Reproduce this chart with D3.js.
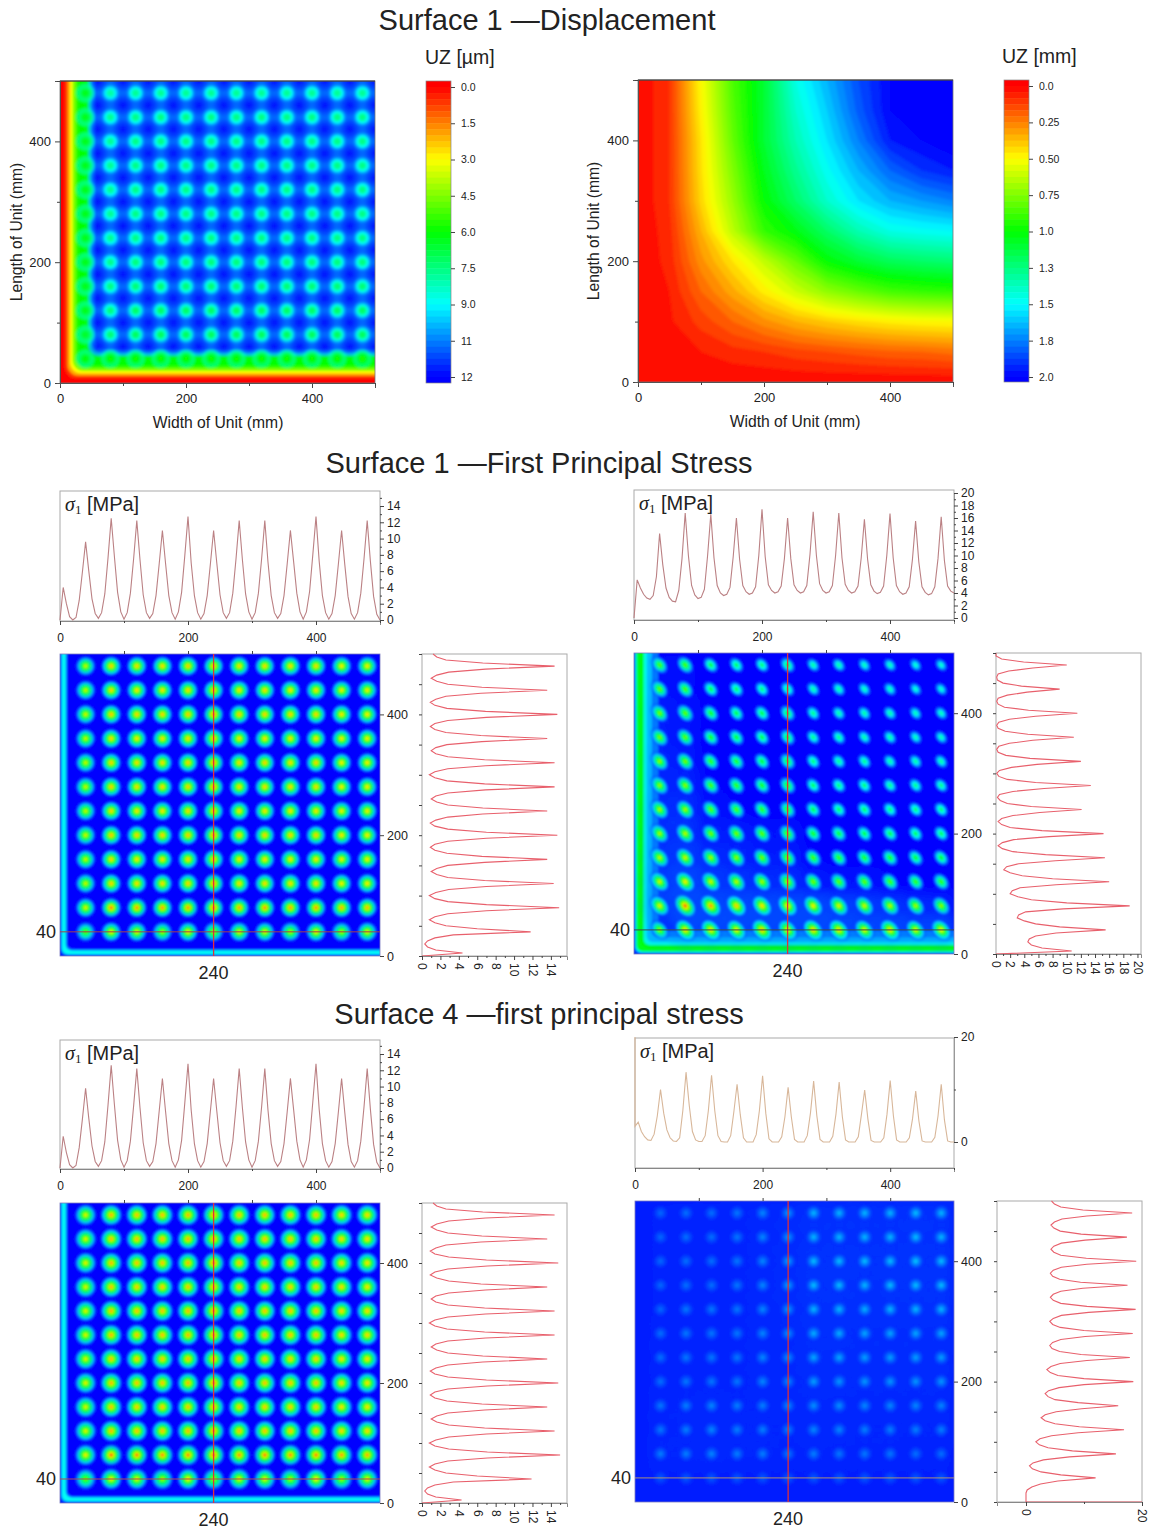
<!DOCTYPE html>
<html>
<head>
<meta charset="utf-8">
<style>
  html, body { margin: 0; background: #fff; }
  text { font-family: "Liberation Sans", Arial, sans-serif; fill: #222; }
</style>
<script src="https://cdn.jsdelivr.net/npm/d3@7"></script>
</head>
<body>
<div id="chart"></div>
<script>
// stations along the section lines, mm
const stations = d3.range(0, 501, 5);
const spotX = [40, 80, 120, 160, 200, 240, 280, 320, 360, 400, 440, 480];
const spotY = [480, 440, 400, 360, 320, 280, 240, 200, 160, 120, 80, 40];
const holeX = [60, 100, 140, 180, 220, 260, 300, 340, 380, 420, 460, 500];
const holeY = [500, 460, 420, 380, 340, 300, 260, 220, 180, 140, 100, 60];
const gridX = [0, 50, 100, 150, 200, 250, 300, 350, 400, 450, 500];

const umBarLabels = ["0.0", "1.5", "3.0", "4.5", "6.0", "7.5", "9.0", "11", "12"];
const mmBarLabels = ["0.0", "0.25", "0.50", "0.75", "1.0", "1.3", "1.5", "1.8", "2.0"];

// UZ [mm] read at gridX, rows from y=500 down to y=0
const uzMm = [
  [0, .10, .50, .85, 1.10, 1.45, 1.65, 1.85, 2.00, 2.05, 2.10],
  [0, .10, .48, .83, 1.10, 1.40, 1.60, 1.82, 2.00, 2.05, 2.10],
  [0, .10, .45, .80, 1.10, 1.35, 1.55, 1.75, 1.95, 2.00, 2.05],
  [0, .10, .44, .75, 1.05, 1.28, 1.48, 1.65, 1.80, 1.90, 1.95],
  [0, .10, .42, .70, 1.00, 1.20, 1.40, 1.55, 1.65, 1.70, 1.75],
  [0, .08, .35, .63, .90, 1.03, 1.20, 1.35, 1.45, 1.48, 1.50],
  [0, .07, .28, .45, .62, .80, 1.00, 1.10, 1.17, 1.20, 1.22],
  [0, .05, .20, .33, .47, .60, .72, .80, .87, .90, .92],
  [0, .04, .12, .20, .28, .35, .40, .44, .47, .49, .50],
  [0, .02, .05, .08, .10, .13, .15, .17, .19, .20, .22],
  [0, 0, 0, 0, 0, 0, 0, 0, 0, 0, 0]
];

// UZ [um] edge bands and pad spots
const uzUmBandDist = [0, 8, 12, 16, 20, 25, 30, 40, 45, 50, 55];
const uzUmBandVal = [0, 0.6, 2, 3, 4.5, 5.6, 6, 6.3, 8.5, 10, 10.8];
const uzUmPeaks = [
  [6.2, 7.8, 7.6, 7.6, 7.6, 7.6, 7.6, 7.6, 7.6, 7.6, 7.6, 7.6],
  [6.2, 7.6, 7.4, 7.4, 7.4, 7.4, 7.4, 7.4, 7.4, 7.4, 7.4, 7.4],
  [6.2, 7.6, 7.4, 7.4, 7.4, 7.4, 7.4, 7.4, 7.4, 7.4, 7.4, 7.4],
  [6.2, 7.6, 7.4, 7.4, 7.4, 7.4, 7.4, 7.4, 7.4, 7.4, 7.4, 7.4],
  [6.2, 7.6, 7.4, 7.4, 7.4, 7.4, 7.4, 7.4, 7.4, 7.4, 7.4, 7.4],
  [6.2, 7.6, 7.4, 7.4, 7.4, 7.4, 7.4, 7.4, 7.4, 7.4, 7.4, 7.4],
  [6.2, 7.6, 7.4, 7.4, 7.4, 7.4, 7.4, 7.4, 7.4, 7.4, 7.4, 7.4],
  [6.2, 7.5, 7.3, 7.3, 7.3, 7.3, 7.3, 7.3, 7.3, 7.3, 7.3, 7.3],
  [6.2, 7.4, 7.2, 7.2, 7.2, 7.2, 7.2, 7.2, 7.2, 7.2, 7.2, 7.2],
  [6.2, 7.3, 7.0, 7.0, 7.0, 7.0, 7.0, 7.0, 7.0, 7.0, 7.0, 7.0],
  [6.4, 7.2, 6.9, 6.9, 6.9, 6.9, 6.9, 6.9, 6.9, 6.9, 6.9, 6.9],
  [6.0, 5.8, 5.8, 5.8, 5.8, 5.8, 5.8, 5.8, 5.8, 5.8, 5.8, 5.6]
];

// Surface 1, thin plate: section at y=40 and x=240, MPa
const s1LeftLine = [
  0, 4.0, 2.0, 0.4, 0.0, 0.3, 2.4, 5.9,
  9.6, 6.0, 2.6, 0.8, 0.2, 0.9, 3.2, 7.6,
  12.5, 7.8, 3.4, 1.0, 0.1, 0.9, 3.3, 7.5,
  12.2, 7.4, 3.1, 0.9, 0.2, 0.8, 3.0, 6.9,
  11.0, 6.9, 3.0, 0.9, 0.1, 1.0, 3.4, 7.9,
  12.7, 7.0, 3.0, 0.9, 0.1, 0.8, 3.0, 6.9,
  11.0, 7.0, 3.1, 0.9, 0.2, 0.9, 3.3, 7.5,
  12.2, 7.4, 3.2, 1.0, 0.1, 0.9, 3.3, 7.5,
  12.2, 7.1, 3.0, 0.9, 0.2, 0.8, 3.0, 6.9,
  11.0, 7.2, 3.3, 1.0, 0.1, 1.0, 3.5, 8.0,
  12.7, 7.2, 3.0, 0.9, 0.1, 0.8, 3.0, 6.9,
  11.0, 6.8, 2.9, 0.8, 0.1, 0.9, 3.3, 7.5,
  12.2, 7.2, 2.9, 0.7, 0.0
];
const s1LeftCol = [
  0, 4.4, 1.5, 0.6, 0.3, 0.6, 1.4, 3.4,
  11.8, 6.0, 2.6, 1.4, 0.8, 1.4, 2.8, 7.0,
  14.9, 7.0, 2.8, 1.4, 0.8, 1.5, 2.9, 7.0,
  14.3, 6.8, 2.8, 1.6, 1.0, 1.6, 2.8, 6.8,
  13.6, 6.5, 2.7, 1.4, 0.9, 1.4, 2.8, 7.0,
  14.7, 7.0, 2.8, 1.4, 0.9, 1.5, 2.8, 6.6,
  13.6, 6.6, 2.8, 1.6, 1.0, 1.5, 2.8, 6.9,
  14.4, 6.8, 2.7, 1.4, 0.8, 1.4, 2.8, 6.9,
  14.4, 6.8, 2.8, 1.5, 1.0, 1.5, 2.7, 6.5,
  13.6, 6.4, 2.6, 1.4, 0.9, 1.4, 2.8, 7.0,
  14.7, 6.9, 2.7, 1.4, 0.9, 1.5, 2.6, 6.4,
  13.6, 6.5, 2.8, 1.6, 1.0, 1.6, 2.9, 6.9,
  14.4, 6.6, 2.6, 1.6, 1.2
];
const s1LeftPeaks = [
  [11.5, 13.4, 13.2, 13.2, 13.5, 13.6, 13.2, 13.2, 13.2, 13.2, 12.8, 12.8],
  [11.5, 13.2, 13.0, 13.0, 13.2, 13.6, 13.0, 13.2, 13.0, 13.0, 12.6, 12.6],
  [11.8, 13.6, 13.4, 13.4, 13.6, 14.7, 13.6, 13.4, 13.4, 13.4, 13.0, 12.8],
  [11.5, 13.2, 13.0, 13.0, 13.2, 13.6, 13.0, 13.0, 13.0, 13.0, 12.8, 12.6],
  [11.6, 13.4, 13.2, 13.2, 13.4, 14.4, 13.2, 13.4, 13.2, 13.4, 12.8, 12.8],
  [11.6, 13.4, 13.2, 13.2, 13.4, 14.4, 13.2, 13.2, 13.2, 13.2, 12.8, 12.8],
  [11.5, 13.2, 13.0, 13.0, 13.2, 13.6, 13.0, 13.0, 13.0, 13.0, 12.6, 12.6],
  [11.8, 13.6, 13.4, 13.4, 13.6, 14.7, 13.4, 13.4, 13.4, 13.4, 13.0, 12.8],
  [11.5, 13.2, 13.0, 13.0, 13.2, 13.6, 13.0, 13.0, 13.0, 13.0, 12.6, 12.6],
  [11.6, 13.4, 13.2, 13.2, 13.4, 14.3, 13.2, 13.2, 13.2, 13.2, 12.8, 12.8],
  [12.0, 14.9, 14.4, 14.2, 14.4, 14.9, 14.2, 14.4, 14.2, 14.4, 14.0, 13.8],
  [9.6, 12.5, 12.2, 11.0, 12.7, 11.0, 12.2, 12.2, 11.0, 12.7, 11.0, 12.2]
];
const s1LeftBandDist = [0, 2, 3.5, 6.5, 9, 11];
const s1LeftBandVal = [0.5, 3.0, 3.9, 3.9, 1.5, 0];

// Surface 1, thick plate
const s1RightLine = [
  0, 6.1, 4.8, 3.8, 3.2, 3.0, 3.6, 6.6,
  13.5, 8.5, 4.8, 3.3, 2.7, 2.6, 4.4, 9.5,
  16.8, 10.0, 5.2, 3.7, 3.1, 3.3, 4.6, 10.0,
  16.6, 9.6, 5.2, 4.0, 3.6, 3.8, 4.9, 9.8,
  16.0, 9.4, 5.2, 4.2, 3.8, 4.0, 5.0, 10.0,
  17.4, 9.8, 5.3, 4.4, 4.0, 4.2, 5.1, 9.5,
  16.0, 9.5, 5.3, 4.4, 4.0, 4.2, 5.2, 10.2,
  17.0, 10.0, 5.5, 4.4, 4.0, 4.2, 5.2, 10.0,
  16.8, 9.6, 5.4, 4.4, 4.0, 4.2, 5.1, 9.6,
  15.8, 9.4, 5.3, 4.3, 3.9, 4.1, 5.1, 10.0,
  16.7, 9.6, 5.2, 4.2, 3.8, 4.0, 5.0, 9.3,
  15.5, 9.0, 5.0, 4.1, 3.7, 3.9, 5.0, 9.5,
  16.2, 9.2, 5.1, 4.3, 4.0
];
const s1RightCol = [
  0, 10.7, 6.5, 5.0, 4.5, 4.7, 5.6, 8.5,
  15.5, 9.0, 5.6, 4.0, 3.0, 3.2, 4.2, 9.5,
  18.9, 10.0, 5.0, 3.1, 2.0, 2.3, 3.4, 8.5,
  16.0, 8.0, 3.7, 2.0, 1.1, 1.5, 3.2, 8.4,
  15.4, 7.0, 2.4, 0.9, 0.3, 0.9, 2.5, 7.5,
  15.2, 6.5, 2.0, 0.8, 0.3, 0.8, 2.4, 6.2,
  12.1, 5.0, 1.6, 0.6, 0.2, 0.5, 2.4, 6.8,
  13.4, 5.6, 1.6, 0.4, 0.1, 0.5, 2.2, 5.8,
  12.0, 4.8, 1.4, 0.3, 0.1, 0.4, 1.9, 5.2,
  11.0, 4.5, 1.3, 0.3, 0.1, 0.4, 1.9, 5.6,
  11.5, 4.6, 1.2, 0.3, 0.1, 0.3, 1.6, 4.4,
  9.0, 3.6, 1.0, 0.2, 0.1, 0.3, 1.8, 5.2,
  10.0, 3.9, 0.8, 0.0, 0.0
];
const s1RightPeaks = [
  [12.0, 12.0, 10.0, 9.5, 9.0, 10.0, 8.0, 8.0, 7.5, 7.5, 7.0, 7.0],
  [12.5, 12.0, 10.0, 9.5, 9.0, 9.0, 8.0, 8.0, 7.5, 7.5, 7.0, 7.0],
  [13.0, 12.5, 11.0, 10.0, 10.0, 10.5, 8.5, 8.0, 8.0, 8.0, 7.5, 7.5],
  [13.0, 12.5, 11.0, 10.5, 10.0, 10.5, 8.5, 8.5, 8.0, 8.0, 7.5, 7.5],
  [13.5, 13.0, 11.5, 11.0, 10.5, 11.0, 9.0, 8.5, 8.5, 8.0, 8.0, 8.0],
  [13.5, 13.5, 12.0, 11.5, 11.0, 11.5, 9.5, 9.0, 9.0, 8.5, 8.5, 8.5],
  [14.0, 14.0, 12.5, 12.0, 11.5, 11.5, 10.0, 9.5, 9.5, 9.0, 9.0, 9.0],
  [14.0, 14.5, 13.0, 13.0, 12.5, 12.5, 11.0, 10.5, 10.0, 10.0, 9.5, 9.5],
  [14.5, 15.0, 14.0, 13.5, 13.0, 13.0, 12.0, 11.5, 11.0, 11.0, 10.5, 10.5],
  [15.0, 16.0, 15.0, 14.5, 14.0, 14.0, 13.0, 12.5, 12.5, 12.0, 11.5, 11.5],
  [15.5, 18.9, 18.0, 17.0, 16.5, 16.5, 16.0, 15.5, 15.0, 14.5, 14.0, 13.5],
  [13.5, 16.8, 16.6, 16.0, 17.4, 16.0, 17.0, 16.8, 15.8, 16.7, 15.5, 16.2]
];
const s1RightBandDist = [0, 2, 4, 11, 15, 20, 28, 38];
const s1RightBandVal = [1, 5, 9, 9.5, 5.2, 3.6, 2.2, 0];

// Surface 4, thin plate
const s4LeftLine = [
  0, 3.9, 1.9, 0.4, 0.0, 0.3, 2.5, 6.0,
  9.8, 6.1, 2.7, 0.8, 0.2, 0.9, 3.2, 7.7,
  12.6, 7.8, 3.4, 1.0, 0.1, 0.9, 3.3, 7.6,
  12.2, 7.4, 3.1, 0.9, 0.2, 0.8, 3.0, 7.0,
  11.0, 6.9, 3.0, 0.9, 0.1, 1.0, 3.4, 8.0,
  12.8, 7.1, 3.0, 0.9, 0.1, 0.8, 3.0, 7.0,
  11.0, 7.0, 3.1, 0.9, 0.2, 0.9, 3.3, 7.5,
  12.2, 7.4, 3.2, 1.0, 0.1, 0.9, 3.3, 7.5,
  12.2, 7.1, 3.0, 0.9, 0.2, 0.8, 3.0, 6.9,
  11.0, 7.2, 3.3, 1.0, 0.1, 1.0, 3.5, 8.1,
  12.8, 7.2, 3.0, 0.9, 0.1, 0.8, 3.0, 6.9,
  11.0, 6.8, 2.9, 0.8, 0.1, 0.9, 3.3, 7.5,
  12.2, 7.2, 2.9, 0.7, 0.0
];
const s4LeftCol = [
  0, 4.3, 1.5, 0.6, 0.3, 0.6, 1.4, 3.4,
  11.9, 6.0, 2.6, 1.4, 0.8, 1.4, 2.8, 7.1,
  15.0, 7.1, 2.9, 1.4, 0.8, 1.5, 2.9, 7.0,
  14.4, 6.8, 2.9, 1.6, 1.0, 1.6, 2.8, 6.8,
  13.6, 6.5, 2.7, 1.4, 0.9, 1.4, 2.8, 7.1,
  14.8, 7.0, 2.8, 1.4, 0.9, 1.5, 2.8, 6.6,
  13.6, 6.6, 2.8, 1.6, 1.0, 1.5, 2.8, 6.9,
  14.4, 6.8, 2.7, 1.4, 0.8, 1.4, 2.8, 6.9,
  14.4, 6.8, 2.8, 1.5, 1.0, 1.5, 2.9, 6.9,
  13.6, 6.4, 2.9, 1.6, 0.9, 1.4, 2.8, 7.1,
  14.8, 7.0, 2.9, 1.4, 0.9, 1.5, 2.6, 6.4,
  13.6, 6.5, 2.8, 1.6, 1.0, 1.6, 2.9, 6.9,
  14.4, 6.6, 2.6, 1.6, 1.2
];
const s4LeftPeaks = [
  [12.0, 13.8, 13.6, 13.6, 13.8, 14.0, 13.6, 13.6, 13.6, 13.6, 13.2, 13.2],
  [12.0, 13.6, 13.6, 13.6, 13.8, 13.9, 13.5, 13.5, 13.5, 13.5, 13.2, 13.0],
  [12.2, 13.8, 13.6, 13.6, 13.8, 14.8, 13.6, 13.6, 13.6, 13.6, 13.2, 13.0],
  [12.0, 13.6, 13.4, 13.4, 13.6, 13.8, 13.4, 13.4, 13.4, 13.4, 13.2, 13.0],
  [12.0, 13.8, 13.6, 13.6, 13.8, 14.4, 13.6, 13.6, 13.6, 13.6, 13.2, 13.2],
  [12.0, 13.8, 13.6, 13.6, 13.8, 14.4, 13.6, 13.6, 13.6, 13.6, 13.2, 13.2],
  [12.0, 13.6, 13.4, 13.4, 13.6, 13.8, 13.4, 13.4, 13.4, 13.4, 13.0, 13.0],
  [12.2, 13.8, 13.6, 13.6, 13.8, 14.8, 13.6, 13.6, 13.6, 13.6, 13.2, 13.0],
  [12.0, 13.6, 13.4, 13.4, 13.6, 13.8, 13.4, 13.4, 13.4, 13.4, 13.0, 13.0],
  [12.0, 13.8, 13.6, 13.6, 13.8, 14.4, 13.6, 13.6, 13.6, 13.6, 13.2, 13.2],
  [12.4, 15.0, 14.6, 14.4, 14.6, 15.0, 14.4, 14.6, 14.4, 14.6, 14.2, 14.0],
  [9.8, 12.6, 12.2, 11.0, 12.8, 11.0, 12.2, 12.2, 11.0, 12.8, 11.0, 12.2]
];

// Surface 4, thick plate
const s4RightLine = [
  3.0, 3.8, 2.0, 1.0, 0.4, 0.3, 1.5, 5.0,
  10.0, 5.5, 2.3, 0.8, 0.2, 0.1, 0.8, 6.0,
  13.3, 7.0, 2.0, 0.4, 0.1, 0.1, 1.2, 6.0,
  12.7, 6.0, 1.2, 0.1, 0.0, 0.0, 1.2, 5.8,
  11.0, 5.2, 0.8, 0.0, 0.0, 0.0, 1.4, 6.0,
  12.6, 5.5, 0.6, 0.0, 0.0, 0.0, 1.0, 4.8,
  10.4, 4.8, 0.5, 0.0, 0.0, 0.0, 1.2, 5.5,
  11.6, 5.0, 0.5, 0.0, 0.0, 0.0, 1.1, 5.3,
  11.4, 4.8, 0.4, 0.0, 0.0, 0.0, 1.0, 5.3,
  9.9, 4.4, 0.3, 0.0, 0.0, 0.0, 0.8, 5.3,
  11.7, 5.0, 0.4, 0.0, 0.0, 0.0, 0.8, 4.4,
  9.7, 4.0, 0.2, 0.0, 0.0, 0.0, 0.9, 5.0,
  11.0, 4.2, 0.2, 0.0, 0.0
];
const s4RightCol = [
  0, 0, 0, 0, 0.2, 1.0, 2.5, 5.5,
  12.0, 6.0, 2.6, 1.1, 0.6, 1.2, 3.0, 7.5,
  15.5, 8.0, 3.8, 2.3, 1.7, 2.4, 4.4, 9.0,
  16.9, 9.2, 5.0, 3.3, 2.6, 3.3, 5.2, 9.6,
  15.9, 9.0, 5.0, 3.8, 3.3, 3.9, 5.7, 10.0,
  18.5, 10.0, 5.5, 4.2, 3.6, 4.3, 5.9, 10.5,
  17.9, 9.5, 5.8, 4.5, 4.1, 4.6, 6.0, 10.2,
  18.4, 10.0, 5.9, 4.6, 4.1, 4.7, 6.1, 10.8,
  18.9, 10.5, 6.0, 4.7, 4.2, 4.7, 6.0, 9.8,
  17.5, 9.4, 5.8, 4.6, 4.2, 4.7, 6.1, 10.5,
  19.0, 10.4, 6.0, 4.8, 4.3, 4.8, 6.1, 10.2,
  17.4, 9.5, 5.9, 4.8, 4.3, 4.9, 6.2, 10.5,
  18.3, 9.8, 6.0, 4.9, 4.4
];
// the spike both s4 right sections start with at the edge
const s4RightLineEdge = [20, 3];
const s4RightColEdge = [20, 0];
const s4RightPeaks = [
  [13, 14, 14, 15, 17, 19, 23, 23, 23, 23, 24, 23],
  [13, 14, 14, 15, 17, 19, 23, 23, 23, 23, 24, 23],
  [13, 14, 14, 15, 17, 20, 24, 24, 24, 24, 25, 24],
  [13, 14, 14, 15, 17, 20, 24, 24, 23, 24, 24, 24],
  [13, 15, 15, 15, 17, 19, 23, 23, 22, 23, 23, 23],
  [14, 15, 15, 15, 17, 18, 22, 22, 21, 21, 21, 21],
  [14, 15, 15, 15, 17, 18, 21, 21, 20, 20, 20, 20],
  [14, 15, 15, 15, 17, 17, 20, 19, 19, 19, 19, 19],
  [15, 16, 17, 16, 16, 17, 18, 18, 17, 17, 17, 17],
  [15, 16, 17, 16, 16, 16, 17, 17, 16, 16, 16, 16],
  [16, 16, 17, 16, 16, 15, 16, 15, 15, 15, 14, 14],
  [11, 11, 11, 11, 11, 11, 11, 11, 11, 11, 11, 11]
];

const width = 1151;
const height = 1529;

const jet = d3.scaleLinear()
  .domain([0, 0.25, 0.5, 0.75, 1])
  .range(["#ff0000", "#ffff00", "#00ff00", "#00ffff", "#0000ff"])
  .clamp(true);

const svg = d3.select("#chart").append("svg")
  .attr("width", width)
  .attr("height", height)
  .attr("viewBox", [0, 0, width, height])
  .style("display", "block");
const defs = svg.append("defs");

function blurFilter(id, std) {
  defs.append("filter").attr("id", id).attr("x", "-5%").attr("y", "-5%").attr("width", "110%").attr("height", "110%")
    .append("feGaussianBlur").attr("stdDeviation", std);
}
blurFilter("soft", 0.8);
blurFilter("softer", 1.6);

let gradId = 0;
// radial stops: [offset, share of the peak]
const stressFalloff = [[0, 1], [0.1, 0.88], [0.2, 0.72], [0.38, 0.52], [0.62, 0.28], [0.85, 0.08], [1, 0]];
const padFalloff = [[0, 1], [0.25, 0.9], [0.5, 0.55], [0.75, 0.22], [1, 0]];

function spotGradient(color, low, peak, falloff) {
  const id = "g" + (gradId++);
  const g = defs.append("radialGradient").attr("id", id);
  falloff.forEach(([o, f]) => {
    g.append("stop")
      .attr("offset", o)
      .attr("stop-color", color(low + (peak - low) * f))
      .attr("stop-opacity", Math.min(1, f * 3));
  });
  return "url(#" + id + ")";
}

function softGradient(col, alpha) {
  const id = "g" + (gradId++);
  const g = defs.append("radialGradient").attr("id", id);
  g.append("stop").attr("offset", 0).attr("stop-color", col).attr("stop-opacity", alpha);
  g.append("stop").attr("offset", 1).attr("stop-color", col).attr("stop-opacity", 0);
  return "url(#" + id + ")";
}

function styleAxis(g, size) {
  g.attr("font-size", size).attr("font-family", null);
  g.selectAll("path.domain").attr("stroke", "#555");
  g.selectAll("line").attr("stroke", "#444");
  g.selectAll("text").attr("fill", "#333");
}

function title(txt, x, y) {
  svg.append("text").attr("x", x).attr("y", y).attr("text-anchor", "middle")
    .attr("fill", "#111").style("font-size", "29px").text(txt);
}

// ---- layered field: bands along the two clamped edges, halos, spots
function drawField(g, f) {
  g.append("rect")
    .attr("x", f.x(0) - 30).attr("y", f.y(500) - 30)
    .attr("width", f.x(500) - f.x(0) + 60).attr("height", f.y(0) - f.y(500) + 60)
    .attr("fill", f.color(f.base));

  const dist = f.bandDist || [];
  // outer band first, each next one nested inside it
  g.selectAll("rect.band").data(dist).join("rect")
    .attr("class", "band")
    .attr("x", (d, i) => i ? f.x(d) : f.x(0) - 30)
    .attr("y", f.y(500) - 30)
    .attr("width", (d, i) => f.x(500) + 30 - (i ? f.x(d) : f.x(0) - 30))
    .attr("height", (d, i) => (i ? f.y(d) : f.y(0) + 30) - f.y(500) + 30)
    .attr("rx", f.bandR).attr("ry", f.bandR)
    .attr("fill", (d, i) => f.color(f.bandVal[i]));

  const cells = f.peaks.flatMap((row, r) => row.map((p, c) => ({ px: spotX[c], py: spotY[r], p })));

  if (f.holes) {
    const fill = softGradient("#0000ff", 0.85);
    const holes = holeY.flatMap(py => holeX.map(px => ({ px, py })));
    g.selectAll("circle.hole").data(holes).join("circle")
      .attr("class", "hole")
      .attr("cx", d => f.x(d.px)).attr("cy", d => f.y(d.py))
      .attr("r", f.holes)
      .attr("fill", fill);
  }

  if (f.halo) {
    g.selectAll("ellipse.halo").data(cells).join("ellipse")
      .attr("class", "halo")
      .attr("cx", d => f.x(d.px)).attr("cy", d => f.y(d.py))
      .attr("rx", f.halo.r).attr("ry", f.halo.r)
      .attr("fill", d => softGradient(f.halo.color, f.halo.alpha(d.p)));
  }

  g.selectAll("ellipse.spot").data(cells).join("ellipse")
    .attr("class", "spot")
    .attr("transform", d => `translate(${f.x(d.px)},${f.y(d.py)}) rotate(${f.tilt || 0})`)
    .attr("rx", d => f.spotR(d.p) * (f.stretch || 1))
    .attr("ry", d => f.spotR(d.p) / (f.stretch || 1))
    .attr("fill", d => spotGradient(f.color, f.low ? f.low(d.p) : f.base, d.p, f.falloff));
}

function clipFor(x0, x1, y0, y1) {
  const id = "clip" + (gradId++);
  defs.append("clipPath").attr("id", id).append("rect")
    .attr("x", x0).attr("y", y0).attr("width", x1 - x0).attr("height", y1 - y0);
  return "url(#" + id + ")";
}

// ---- the two displacement plots
function colorBar(x0, yTop, yBottom, tickTop, tickBottom, labels, unit, unitX) {
  const bandScale = d3.scaleLinear().domain([0, 1]).range([tickTop, tickBottom]);
  const steps = d3.range(-2, 50);
  const g = svg.append("g");
  g.selectAll("rect").data(steps).join("rect")
    .attr("x", x0)
    .attr("y", d => Math.max(yTop, bandScale(d / 48)))
    .attr("width", 25)
    .attr("height", d => Math.max(0, Math.min(yBottom, bandScale((d + 1) / 48) + 0.5) - Math.max(yTop, bandScale(d / 48))))
    .attr("fill", d => jet((d + 0.5) / 48));
  g.append("rect").attr("x", x0).attr("y", yTop).attr("width", 25).attr("height", yBottom - yTop)
    .attr("fill", "none").attr("stroke", "#888").attr("stroke-width", 0.7);
  const tickScale = d3.scalePoint().domain(labels).range([tickTop, tickBottom]);
  const axis = g.append("g").attr("transform", `translate(${x0 + 25},0)`)
    .call(d3.axisRight(tickScale).tickSize(4).tickPadding(6));
  styleAxis(axis, 10.5);
  axis.select("path.domain").remove();
  svg.append("text").attr("x", unitX).attr("y", yTop - 17).style("font-size", "19.5px").text(unit);
}

function contourAxes(x, y, xCenter, yLabelX) {
  const [x0, x1] = x.range();
  const [y0, y1] = y.range();
  const frame = svg.append("g");
  frame.append("rect").attr("x", x0).attr("y", y1).attr("width", x1 - x0).attr("height", y0 - y1)
    .attr("fill", "none").attr("stroke", "#777").attr("stroke-width", 0.8);
  frame.append("line").attr("x1", x0).attr("x2", x1).attr("y1", y1).attr("y2", y1).attr("stroke", "#333");

  const bx = frame.append("g").attr("transform", `translate(0,${y0})`)
    .call(d3.axisBottom(x).tickValues([0, 200, 400]).tickSize(5).tickPadding(6));
  styleAxis(bx, 13);
  const bxm = frame.append("g").attr("transform", `translate(0,${y0})`)
    .call(d3.axisBottom(x).tickValues([100, 300, 500]).tickSize(3).tickFormat(""));
  styleAxis(bxm, 13);
  const ly = frame.append("g").attr("transform", `translate(${x0},0)`)
    .call(d3.axisLeft(y).tickValues([0, 200, 400]).tickSize(5).tickPadding(4));
  styleAxis(ly, 13);
  const lym = frame.append("g").attr("transform", `translate(${x0},0)`)
    .call(d3.axisLeft(y).tickValues([100, 300, 500]).tickSize(3).tickFormat(""));
  styleAxis(lym, 13);

  svg.append("text").attr("x", xCenter).attr("y", y0 + 45).attr("text-anchor", "middle")
    .style("font-size", "15.7px").attr("fill", "#333").text("Width of Unit (mm)");
  svg.append("text").attr("transform", `translate(${yLabelX + 5},${(y0 + y1) / 2}) rotate(-90)`)
    .attr("text-anchor", "middle").style("font-size", "15.7px").attr("fill", "#333").text("Length of Unit (mm)");
}

title("Surface 1 \u2014Displacement", 547, 30);

// left, micrometres
{
  const x = d3.scaleLinear().domain([0, 500]).range([60, 375]);
  const y = d3.scaleLinear().domain([0, 500]).range([383, 81]);
  const color = v => jet(v / 12);
  const g = svg.append("g").attr("clip-path", clipFor(60, 375, 81, 383))
    .append("g").attr("filter", "url(#soft)");
  drawField(g, {
    x, y, color, base: 10.8, falloff: padFalloff,
    bandDist: uzUmBandDist, bandVal: uzUmBandVal, bandR: 11,
    holes: 11,
    peaks: uzUmPeaks,
    // spots on the edge bands fade into cyan, not into the blue middle
    low: p => (p < 6.5 ? 8.5 : 10.8),
    spotR: p => (p < 6.5 ? 10.5 : 10.5)
  });
  contourAxes(x, y, 218, 17);
  colorBar(426, 81, 383, 87, 377, umBarLabels, "UZ [\u00b5m]", 425);
}

// right, millimetres
{
  const x = d3.scaleLinear().domain([0, 500]).range([638, 953]);
  const y = d3.scaleLinear().domain([0, 500]).range([382, 80]);
  const n = gridX.length;
  const levels = d3.range(0, 2.2, 0.05);
  const contours = d3.contours().size([n, n]).thresholds(levels)(uzMm.flat());
  const path = d3.geoPath(d3.geoTransform({
    point(px, py) {
      this.stream.point(x((px - 0.5) * 50), y(500 - (py - 0.5) * 50));
    }
  }));
  const g = svg.append("g").attr("clip-path", clipFor(638, 953, 80, 382))
    .append("g").attr("filter", "url(#softer)");
  g.append("rect").attr("x", 610).attr("y", 50).attr("width", 375).attr("height", 360).attr("fill", jet(0));
  g.selectAll("path").data(contours).join("path")
    .attr("d", path)
    .attr("fill", d => jet((d.value + 0.025) / 2));
  contourAxes(x, y, 795, 594);
  colorBar(1004, 80, 382, 86, 377, mmBarLabels, "UZ [mm]", 1002);
}

// ---- the four stress blocks
function stressBlock(p) {
  const x = d3.scaleLinear().domain([0, 500]).range([p.x0, p.x1]);
  const yHeat = d3.scaleLinear().domain([0, 500]).range([p.heatBottom, p.heatTop]);
  const yLine = d3.scaleLinear().domain(p.lineDomain).range(p.lineRange);
  const xProf = d3.scaleLinear().domain(p.profDomain).range(p.profRange);

  // top section
  const top = svg.append("g");
  top.append("rect").attr("x", p.x0).attr("y", p.lineTop)
    .attr("width", p.x1 - p.x0).attr("height", p.lineBottom - p.lineTop)
    .attr("fill", "none").attr("stroke", "#aaa");
  const lineGen = d3.line().x(d => x(d[0])).y(d => yLine(d[1]));
  const linePts = stations.map((s, i) => [s, p.line[i]]);
  if (p.lineEdge) linePts.unshift([0, p.lineEdge[0]], [0, p.lineEdge[1]]);
  top.append("path").datum(linePts).attr("d", lineGen)
    .attr("fill", "none").attr("stroke", p.lineColor).attr("stroke-width", 1.1);

  const ra = top.append("g").attr("transform", `translate(${p.x1},0)`)
    .call(d3.axisRight(yLine).tickValues(p.lineTicks).tickFormat(d3.format("d")).tickSize(4).tickPadding(3));
  styleAxis(ra, 12);
  ra.select("path.domain").attr("stroke", "#999");
  const ram = top.append("g").attr("transform", `translate(${p.x1},0)`)
    .call(d3.axisRight(yLine).tickValues(p.lineMinor).tickSize(2).tickFormat(""));
  styleAxis(ram, 12);
  ram.select("path.domain").remove();

  const bb = top.append("g").attr("transform", `translate(0,${p.lineBottom})`)
    .call(d3.axisBottom(x).tickValues([0, 200, 400]).tickSize(4).tickPadding(8));
  styleAxis(bb, 12);
  bb.select("path.domain").attr("stroke", "#888");
  const bbm = top.append("g").attr("transform", `translate(0,${p.lineBottom})`)
    .call(d3.axisBottom(x).tickValues([100, 300, 500]).tickSize(2).tickFormat(""));
  styleAxis(bbm, 12);
  bbm.select("path.domain").remove();

  const sig = top.append("text").attr("x", p.x0 + 5).attr("y", p.lineTop + 20).style("font-size", "20px");
  sig.append("tspan").style("font-family", "'Liberation Serif', serif").style("font-style", "italic").text("\u03c3");
  sig.append("tspan").style("font-family", "'Liberation Serif', serif").style("font-size", "13px").attr("dy", 3).text("1");
  sig.append("tspan").attr("dy", -3).text(" [MPa]");

  // map
  const cmax = p.cmax;
  const color = v => jet(1 - v / cmax);
  const g = svg.append("g").attr("clip-path", clipFor(p.x0, p.x1, p.heatTop, p.heatBottom))
    .append("g").attr("filter", "url(#soft)");
  drawField(g, {
    x, y: yHeat, color, base: p.base, falloff: stressFalloff,
    bandDist: p.bandDist, bandVal: p.bandVal, bandR: p.bandR,
    peaks: p.peaks, spotR: p.spotR, tilt: p.tilt, stretch: p.stretch, halo: p.halo
  });

  const frame = svg.append("g");
  frame.append("rect").attr("x", p.x0).attr("y", p.heatTop)
    .attr("width", p.x1 - p.x0).attr("height", p.heatBottom - p.heatTop)
    .attr("fill", "none").attr("stroke", "#7a7ac0").attr("stroke-width", 0.8);

  frame.append("line").attr("x1", x(p.crossX)).attr("x2", x(p.crossX))
    .attr("y1", p.heatTop).attr("y2", p.heatBottom).attr("stroke", "#e0303a").attr("stroke-width", 1.3);
  frame.append("line").attr("x1", p.x0).attr("x2", p.x1)
    .attr("y1", yHeat(p.crossY)).attr("y2", yHeat(p.crossY)).attr("stroke", p.crossColor).attr("stroke-width", 1);

  const topTicks = frame.append("g").attr("transform", `translate(0,${p.heatTop})`)
    .call(d3.axisTop(x).tickValues([100, 200, 300, 400]).tickSize(3).tickFormat(""));
  styleAxis(topTicks, 12);
  topTicks.select("path.domain").remove();

  const rh = frame.append("g").attr("transform", `translate(${p.x1},0)`)
    .call(d3.axisRight(yHeat).tickValues([0, 200, 400]).tickSize(4).tickPadding(3));
  styleAxis(rh, 12.5);
  rh.select("path.domain").remove();

  frame.append("text").attr("x", p.x0 - 4).attr("y", yHeat(p.crossY) + 6).attr("text-anchor", "end")
    .style("font-size", "18px").text(p.crossY);
  frame.append("text").attr("x", x(p.crossX)).attr("y", p.heatBottom + 23).attr("text-anchor", "middle")
    .style("font-size", "18px").text(p.crossX);

  // right section
  const side = svg.append("g");
  side.append("rect").attr("x", p.profRange[0]).attr("y", p.heatTop)
    .attr("width", p.profRange[1] - p.profRange[0]).attr("height", p.heatBottom - p.heatTop)
    .attr("fill", "none").attr("stroke", "#aaa");
  const colGen = d3.line().x(d => xProf(d[1])).y(d => yHeat(d[0]));
  const colPts = stations.map((s, i) => [s, p.col[i]]);
  if (p.colEdge) colPts.unshift([0, p.colEdge[0]], [0, p.colEdge[1]]);
  side.append("path").datum(colPts).attr("d", colGen)
    .attr("fill", "none").attr("stroke", "#e8606c").attr("stroke-width", 1.1);

  const sl = side.append("g").attr("transform", `translate(${p.profRange[0]},0)`)
    .call(d3.axisLeft(yHeat).tickValues(d3.range(0, 501, 50)).tickSize(3).tickFormat(""));
  styleAxis(sl, 12);
  sl.select("path.domain").remove();

  const sb = side.append("g").attr("transform", `translate(0,${p.heatBottom})`)
    .call(d3.axisBottom(xProf).tickValues(p.profTicks).tickFormat(d3.format("d")).tickSize(4));
  styleAxis(sb, 12);
  sb.select("path.domain").attr("stroke", "#888");
  sb.selectAll("text")
    .attr("transform", "rotate(90)")
    .attr("x", 7).attr("y", 0).attr("dy", "0.35em")
    .attr("text-anchor", "start");
  const sbm = side.append("g").attr("transform", `translate(0,${p.heatBottom})`)
    .call(d3.axisBottom(xProf).tickValues(p.profMinor).tickSize(2).tickFormat(""));
  styleAxis(sbm, 12);
  sbm.select("path.domain").remove();
}

const leftLineTicks = [0, 2, 4, 6, 8, 10, 12, 14];
const leftLineMinor = [1, 3, 5, 7, 9, 11, 13, 15];
const rightLineTicks = [0, 2, 4, 6, 8, 10, 12, 14, 16, 18, 20];
const rightLineMinor = [1, 3, 5, 7, 9, 11, 13, 15, 17, 19];

title("Surface 1 \u2014First Principal Stress", 539, 473);

stressBlock({
  x0: 60, x1: 380, lineTop: 491, lineBottom: 621,
  lineDomain: [0, 14], lineRange: [620, 506],
  lineTicks: leftLineTicks, lineMinor: leftLineMinor,
  heatTop: 654, heatBottom: 956,
  profDomain: [0, 15.75], profRange: [422, 567],
  profTicks: leftLineTicks, profMinor: leftLineMinor,
  line: s1LeftLine, col: s1LeftCol, peaks: s1LeftPeaks,
  lineColor: "#bb8184", crossX: 240, crossY: 40, crossColor: "#a5404a",
  cmax: 15, base: 0, bandDist: s1LeftBandDist, bandVal: s1LeftBandVal, bandR: 6,
  spotR: () => 11.5
});

stressBlock({
  x0: 634, x1: 954, lineTop: 490, lineBottom: 620,
  lineDomain: [0, 20], lineRange: [618, 493],
  lineTicks: rightLineTicks, lineMinor: rightLineMinor,
  heatTop: 653, heatBottom: 954,
  profDomain: [0, 20.5], profRange: [996, 1141],
  profTicks: rightLineTicks, profMinor: rightLineMinor,
  line: s1RightLine, col: s1RightCol, peaks: s1RightPeaks,
  lineColor: "#bb8184", crossX: 240, crossY: 40, crossColor: "#3a4a4a",
  cmax: 19, base: 0, bandDist: s1RightBandDist, bandVal: s1RightBandVal, bandR: 6,
  tilt: 50, stretch: 1.2,
  spotR: d3.scaleLinear().domain([7, 19]).range([7.5, 13]),
  halo: { r: 24, color: "#0080ff", alpha: d3.scaleLinear().domain([11.5, 16]).range([0, 0.7]).clamp(true) }
});

title("Surface 4 \u2014first principal stress", 539, 1024);

stressBlock({
  x0: 60, x1: 380, lineTop: 1040, lineBottom: 1169,
  lineDomain: [0, 14], lineRange: [1168, 1054],
  lineTicks: leftLineTicks, lineMinor: leftLineMinor,
  heatTop: 1203, heatBottom: 1503,
  profDomain: [0, 15.75], profRange: [422, 567],
  profTicks: leftLineTicks, profMinor: leftLineMinor,
  line: s4LeftLine, col: s4LeftCol, peaks: s4LeftPeaks,
  lineColor: "#bb8184", crossX: 240, crossY: 40, crossColor: "#b04a50",
  cmax: 15, base: 0, bandDist: s1LeftBandDist, bandVal: s1LeftBandVal, bandR: 6,
  spotR: () => 12.5
});

stressBlock({
  x0: 635, x1: 954, lineTop: 1038, lineBottom: 1168,
  lineDomain: [0, 20], lineRange: [1142, 1037],
  lineTicks: [0, 20], lineMinor: [10],
  lineEdge: s4RightLineEdge,
  heatTop: 1201, heatBottom: 1502,
  profDomain: [-5, 20], profRange: [997, 1142],
  profTicks: [0, 20], profMinor: [10],
  colEdge: s4RightColEdge,
  line: s4RightLine, col: s4RightCol, peaks: s4RightPeaks,
  lineColor: "#d8b79a", crossX: 240, crossY: 40, crossColor: "#a9907a",
  cmax: 120, base: 3,
  spotR: () => 10,
  halo: { r: 24, color: "#0050ff", alpha: d3.scaleLinear().domain([12, 24]).range([0.1, 0.5]).clamp(true) }
});
</script>
</body>
</html>
